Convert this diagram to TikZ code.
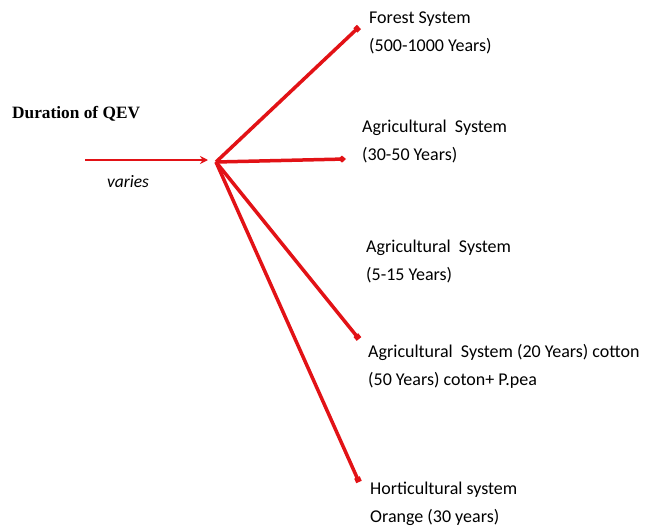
\documentclass[tikz,border=0pt]{standalone}
\usepackage{fontspec}
\setmainfont{Carlito}
\newfontfamily\timesfont{Liberation Serif}
\usetikzlibrary{arrows.meta}
\definecolor{arrowred}{RGB}{226,18,22}
\begin{document}
\begin{tikzpicture}[x=1pt,y=-1pt,
  conn/.style={draw=arrowred,line width=3.5pt},
  lbl/.style={anchor=west,align=left,inner sep=0pt,font=\fontsize{18}{28}\selectfont},
]
\useasboundingbox (0,0) rectangle (653,527);
% labels
\node[anchor=west,inner sep=0pt,font=\timesfont\bfseries\fontsize{17.3}{20}\selectfont] (title) at (12,114) {Duration of QEV};
\node[anchor=center,inner sep=0pt,font=\itshape\fontsize{17.5}{20}\selectfont] (varies) at (128,182) {varies};
\node[lbl] (forest) at (369,32.5) {Forest System\\(500-1000 Years)};
\node[lbl] (agr1) at (362,141) {Agricultural\ \ System\\(30-50 Years)};
\node[lbl] (agr2) at (366,261) {Agricultural\ \ System\\(5-15 Years)};
\node[lbl] (agr3) at (368,366) {Agricultural\ \ System (20 Years) cotton\\(50 Years) coton+ P.pea};
\node[lbl] (hort) at (370,503.5) {Horticultural system\\Orange (30 years)};
% connector points
\coordinate (start) at (85,160);
\coordinate (inend) at (208,160);
\coordinate (hub) at (216,162);
\coordinate (e1) at (359,27);
\coordinate (e2) at (346,159);
\coordinate (e3) at (359,339);
\coordinate (e4) at (359,482);
% connectors
\draw[draw=arrowred,line width=2.5pt,-{Stealth[length=8pt,width=8pt]}] (start) -- (inend);
\draw[conn,-{Square[length=5pt,width=6pt]}] (hub) -- (e1);
\draw[conn,-{Diamond[length=8pt,width=7pt]}] (hub) -- (e2);
\draw[conn,-{Square[length=5pt,width=6pt]}] (hub) -- (e3);
\draw[conn,-{Square[length=5pt,width=6pt]}] (hub) -- (e4);
\end{tikzpicture}
\end{document}
